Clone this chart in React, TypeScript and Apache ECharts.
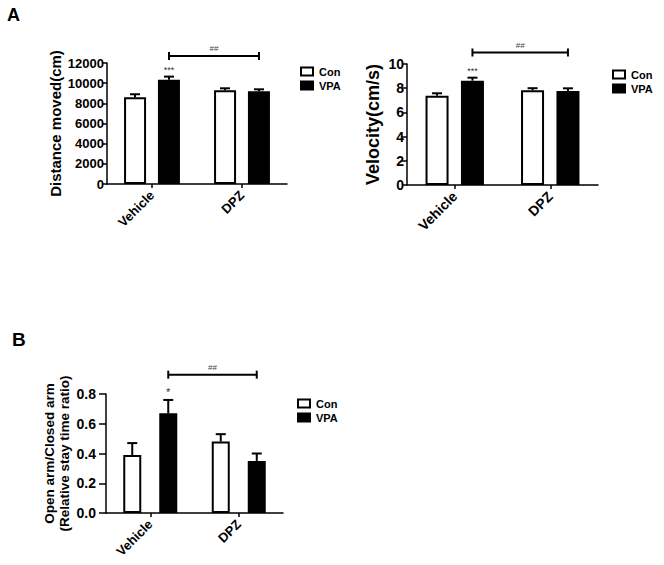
import React, { useEffect, useRef } from "react";
import * as echarts from "echarts";

const FONT = "Liberation Sans, Arial, sans-serif";

const categories = ["Vehicle", "DPZ"];
const seriesNames = ["Con", "VPA"];

// Panel A left: distance moved (cm)
const distCon = [8600, 9290];
const distConErr = [300, 200];
const distVpa = [10350, 9190];
const distVpaErr = [300, 200];
const distStars = ["***", ""];
const distBracket = 12700;
const distBracketLabel = "##";

// Panel A right: velocity (cm/s)
const velCon = [7.38, 7.83];
const velConErr = [0.2, 0.17];
const velVpa = [8.62, 7.77];
const velVpaErr = [0.25, 0.22];
const velStars = ["***", ""];
const velBracket = 10.95;
const velBracketLabel = "##";

// Panel B: open arm / closed arm
const ratioCon = [0.39, 0.48];
const ratioConErr = [0.08, 0.05];
const ratioVpa = [0.67, 0.35];
const ratioVpaErr = [0.09, 0.05];
const ratioStars = ["*", ""];
const ratioBracket = 0.93;
const ratioBracketLabel = "##";

const noStars = ["", ""];

type Panel = {
  con: number[];
  conErr: number[];
  vpa: number[];
  vpaErr: number[];
  stars: string[];
  bracket: number;
  bracketLabel: string;
  barWidth: number;
  barGap: string;
  offset: number;
  starSize: number;
};

function errorSeries(g: number, values: number[], errs: number[], offset: number, stars: string[], starSize: number) {
  return {
    type: "custom",
    xAxisIndex: g,
    yAxisIndex: g,
    silent: true,
    clip: false,
    z: 5,
    encode: { x: 0, y: 1 },
    data: values.map((v, i) => [i, v, errs[i]]),
    renderItem: (params: any, api: any) => {
      const i = api.value(0);
      const v = api.value(1);
      const e = api.value(2);
      const base = api.coord([i, v]);
      const top = api.coord([i, v + e]);
      const x = base[0] + offset;
      const children: any[] = [
        { type: "line", shape: { x1: x, y1: base[1], x2: x, y2: top[1] }, style: { stroke: "#000", lineWidth: 2 } },
        { type: "line", shape: { x1: x - 5, y1: top[1], x2: x + 5, y2: top[1] }, style: { stroke: "#000", lineWidth: 2 } },
      ];
      const s = stars[params.dataIndex];
      if (s) {
        children.push({
          type: "text",
          x,
          y: top[1] - 2,
          style: { text: s, align: "center", verticalAlign: "bottom", fontSize: starSize, fill: "#333", fontFamily: FONT },
        });
      }
      return { type: "group", children };
    },
  };
}

function bracketSeries(g: number, y: number, label: string, offset: number) {
  return {
    type: "custom",
    xAxisIndex: g,
    yAxisIndex: g,
    silent: true,
    clip: false,
    z: 5,
    encode: { x: 0, y: 2 },
    data: [[0, 1, y]],
    renderItem: (params: any, api: any) => {
      const p1 = api.coord([api.value(0), api.value(2)]);
      const p2 = api.coord([api.value(1), api.value(2)]);
      const x1 = p1[0] + offset;
      const x2 = p2[0] + offset;
      const yy = p1[1];
      return {
        type: "group",
        children: [
          { type: "line", shape: { x1, y1: yy, x2, y2: yy }, style: { stroke: "#000", lineWidth: 2 } },
          { type: "line", shape: { x1, y1: yy - 4, x2: x1, y2: yy + 4 }, style: { stroke: "#000", lineWidth: 2 } },
          { type: "line", shape: { x1: x2, y1: yy - 4, x2, y2: yy + 4 }, style: { stroke: "#000", lineWidth: 2 } },
          {
            type: "text",
            x: (x1 + x2) / 2,
            y: yy - 3,
            style: { text: label, align: "center", verticalAlign: "bottom", fontSize: 8, fill: "#444", fontFamily: FONT },
          },
        ],
      };
    },
  };
}

function barSeries(g: number, p: Panel) {
  return [
    {
      type: "bar",
      name: seriesNames[0],
      xAxisIndex: g,
      yAxisIndex: g,
      data: p.con,
      barWidth: p.barWidth,
      barGap: p.barGap,
      itemStyle: { color: "#fff", borderColor: "#000", borderWidth: 2 },
    },
    {
      type: "bar",
      name: seriesNames[1],
      xAxisIndex: g,
      yAxisIndex: g,
      data: p.vpa,
      barWidth: p.barWidth,
      barGap: p.barGap,
      itemStyle: { color: "#000", borderColor: "#000", borderWidth: 2 },
    },
    errorSeries(g, p.con, p.conErr, -p.offset, noStars, p.starSize),
    errorSeries(g, p.vpa, p.vpaErr, p.offset, p.stars, p.starSize),
    bracketSeries(g, p.bracket, p.bracketLabel, p.offset),
  ];
}

const axisLine = { show: true, lineStyle: { color: "#000", width: 1.5 } };

function xAxis(g: number, size: number) {
  return {
    type: "category",
    gridIndex: g,
    data: categories,
    axisLine,
    axisTick: { show: true, alignWithLabel: true, length: 4, lineStyle: { color: "#000", width: 1.5 } },
    axisLabel: { rotate: 45, fontWeight: "bold", fontSize: size, color: "#000", fontFamily: FONT, margin: 9 },
  };
}

function yAxis(
  g: number,
  max: number,
  interval: number,
  name: string,
  nameSize: number,
  nameGap: number,
  labelSize: number,
  labelMargin: number,
  tickLen: number,
  fmt: (v: number) => string
) {
  return {
    type: "value",
    gridIndex: g,
    min: 0,
    max,
    interval,
    name,
    nameLocation: "middle",
    nameGap,
    nameTextStyle: { fontWeight: "bold", fontSize: nameSize, color: "#000", fontFamily: FONT, lineHeight: nameSize + 2 },
    axisLine,
    splitLine: { show: false },
    axisTick: { show: true, length: tickLen, lineStyle: { color: "#000", width: 1.5 } },
    axisLabel: { fontWeight: "bold", fontSize: labelSize, color: "#000", fontFamily: FONT, margin: labelMargin, formatter: fmt },
  };
}

function legend(left: number, top: number) {
  return {
    data: seriesNames,
    orient: "vertical",
    left,
    top,
    padding: 0,
    itemWidth: 12,
    itemHeight: 8,
    itemGap: 3,
    icon: "rect",
    selectedMode: false,
    textStyle: { fontWeight: "bold", fontSize: 11, color: "#000", fontFamily: FONT, padding: [0, 0, 0, 1] },
  };
}

export default function App() {
  const ref = useRef<HTMLDivElement>(null);
  useEffect(() => {
    if (!ref.current) return;
    const chart = echarts.init(ref.current, undefined, { renderer: "svg" });
    const pDist: Panel = {
      con: distCon, conErr: distConErr, vpa: distVpa, vpaErr: distVpaErr, stars: distStars,
      bracket: distBracket, bracketLabel: distBracketLabel, barWidth: 22, barGap: "54%", offset: 17, starSize: 9,
    };
    const pVel: Panel = {
      con: velCon, conErr: velConErr, vpa: velVpa, vpaErr: velVpaErr, stars: velStars,
      bracket: velBracket, bracketLabel: velBracketLabel, barWidth: 23, barGap: "54%", offset: 17.7, starSize: 9,
    };
    const pRatio: Panel = {
      con: ratioCon, conErr: ratioConErr, vpa: ratioVpa, vpaErr: ratioVpaErr, stars: ratioStars,
      bracket: ratioBracket, bracketLabel: ratioBracketLabel, barWidth: 18, barGap: "100%", offset: 18, starSize: 11,
    };
    chart.setOption({
      animation: false,
      backgroundColor: "#fff",
      textStyle: { fontFamily: FONT },
      grid: [
        { left: 107, top: 63, width: 180, height: 121 },
        { left: 407, top: 64, width: 191, height: 121 },
        { left: 106, top: 394, width: 177, height: 119 },
      ],
      xAxis: [xAxis(0, 13), xAxis(1, 14), xAxis(2, 13)],
      yAxis: [
        yAxis(0, 12000, 2000, "Distance moved(cm)", 15, 42, 13, 3, 5, (v: number) => String(v)),
        yAxis(1, 10, 2, "Velocity(cm/s)", 18, 24, 14, 3, 5, (v: number) => String(v)),
        yAxis(2, 0.8, 0.2, "Open arm/Closed arm\n(Relative stay time ratio)", 13.5, 26, 14, 10, 7, (v: number) => v.toFixed(1)),
      ],
      legend: [legend(300, 66), legend(612, 69), legend(297, 398)],
      graphic: [
        { type: "text", left: 7, top: 6, style: { text: "A", fontSize: 18, fontWeight: "bold", fill: "#000", fontFamily: FONT } },
        { type: "text", left: 12, top: 330, style: { text: "B", fontSize: 19, fontWeight: "bold", fill: "#000", fontFamily: FONT } },
      ],
      series: [...barSeries(0, pDist), ...barSeries(1, pVel), ...barSeries(2, pRatio)],
    });
    return () => chart.dispose();
  }, []);
  return (
    <div
      ref={ref}
      style={{ position: "fixed", left: 0, top: 0, width: 664, height: 565, background: "#fff" }}
    />
  );
}
